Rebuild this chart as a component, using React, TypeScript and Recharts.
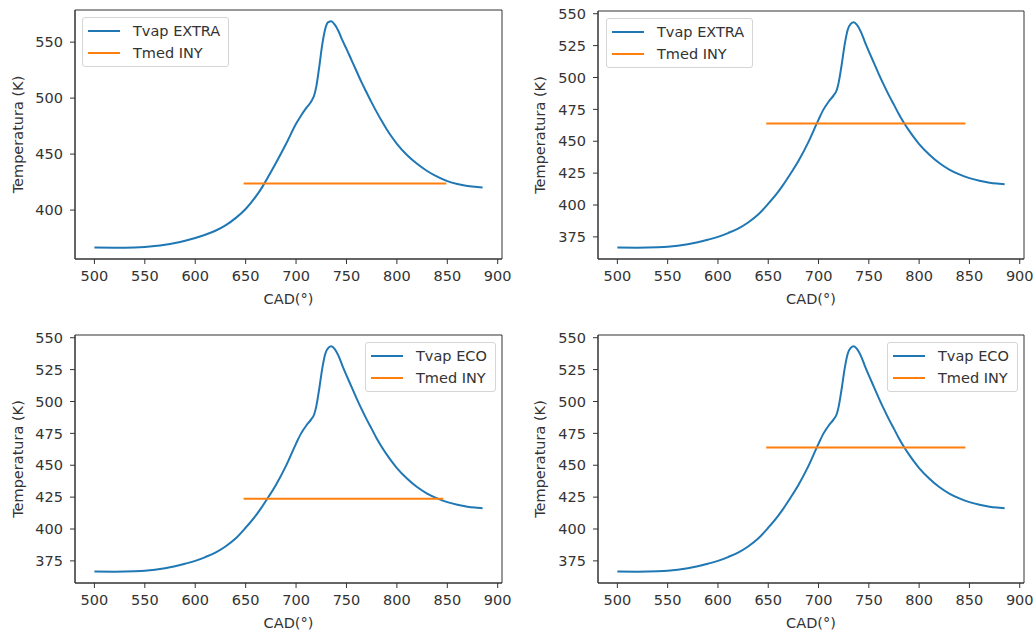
import React from 'react';
import { LineChart, Line, XAxis, YAxis, Legend, Label, ReferenceArea } from 'recharts';

// CAD (°) sample positions shared by the Tvap curves
const cad = [
  500, 520, 540, 550, 560, 570, 580, 590, 600, 610, 620, 630, 640, 650, 660, 665, 670, 680, 690, 700,
  705, 710, 715, 718, 720, 723, 726, 729, 732, 735, 738, 742, 746, 750, 755, 760, 765, 770, 775, 780,
  785, 790, 795, 800, 810, 820, 830, 840, 850, 860, 870, 880, 885,
];

// Tvap EXTRA (top-left panel)
const tvapExtra = [
  366.5, 366.4, 366.6, 367, 367.8, 369, 370.6, 372.6, 375, 378, 381.5, 386.3, 392.8, 401, 412, 418.5, 426, 442, 459, 477,
  484.5, 491, 497, 502.5, 510, 528, 548, 562, 567.8, 568.6, 566, 560, 551.5, 544, 534, 524, 514, 505, 496, 487.5,
  479.5, 472, 465.3, 459.2, 449.2, 441.3, 434.9, 429.8, 425.8, 423.2, 421.5, 420.5, 420.2,
];

// Tvap with the lower peak (other three panels)
const tvapEco = [
  366.6, 366.5, 366.8, 367.2, 368, 369.2, 370.8, 372.8, 375, 378, 381.5, 386.3, 392.5, 401, 410.5, 416, 422, 434.5, 449.5, 467,
  475, 481, 486, 490, 496, 510, 526, 537.5, 542, 543.3, 541.5, 536, 528, 520.5, 511.5, 502.5, 494, 486, 478.5, 471,
  464.3, 458.3, 452.8, 447.8, 439.6, 432.9, 427.8, 424, 421.1, 419, 417.5, 416.6, 416.2,
];

// Tmed INY horizontal segments
const tmedCadA = [648, 849];
const tmedCadB = [648, 846];
const tmedLow = [423.8, 423.8];
const tmedHigh = [464, 464];

const xTicks = [500, 550, 600, 650, 700, 750, 800, 850, 900];
const yTicksA = [400, 450, 500, 550];
const yTicksB = [375, 400, 425, 450, 475, 500, 525, 550];

const BLUE = '#1f77b4';
const ORANGE = '#ff7f0e';
const INK = '#333';
const FONT = '"DejaVu Sans", sans-serif';
const FS = 14.5;

const toRows = (xs: number[], ys: number[]) => xs.map((x, i) => ({ x, y: ys[i] }));

const padded = (vals: number[]): [number, number] => {
  const lo = Math.min(...vals);
  const hi = Math.max(...vals);
  const m = (hi - lo) * 0.05;
  return [lo - m, hi + m];
};

const xDomain = padded(cad);

const LegendBox = ({ items }: { items: { name: string; color: string }[] }) => (
  <div
    style={{
      background: 'rgba(255,255,255,0.8)',
      border: '1px solid #d5d5d5',
      borderRadius: 3,
      padding: '2px 8px 2px 5px',
      fontFamily: FONT,
      fontSize: FS,
      color: INK,
      whiteSpace: 'nowrap',
    }}
  >
    {items.map((it) => (
      <div key={it.name} style={{ display: 'flex', alignItems: 'center', height: 22 }}>
        <div style={{ width: 32, height: 2, background: it.color, marginRight: 13 }} />
        <span>{it.name}</span>
      </div>
    ))}
  </div>
);

interface PanelProps {
  vap: number[];
  vapName: string;
  tmedX: number[];
  tmedY: number[];
  yTicks: number[];
  left: number;
  top: number;
  yAxisW: number;
  marginRight: number;
  marginTop: number;
  xAxisH: number;
  yLabelX: number;
  legendPos: { left: number; top: number };
}

const Panel = (p: PanelProps) => {
  const rows = toRows(cad, p.vap);
  const tmedRows = toRows(p.tmedX, p.tmedY);
  const yDomain = padded(p.vap);
  const tickStyle = { fill: INK, fontSize: FS, fontFamily: FONT };

  return (
    <div style={{ position: 'absolute', left: p.left, top: p.top }}>
      <LineChart
        width={517}
        height={315}
        margin={{ top: p.marginTop, right: p.marginRight, bottom: 0, left: 0 }}
      >
        <XAxis
          dataKey="x"
          type="number"
          domain={xDomain}
          ticks={xTicks}
          allowDataOverflow
          height={p.xAxisH}
          stroke={INK}
          tickSize={5}
          tickMargin={7}
          tick={tickStyle}
        >
          <Label
            content={({ viewBox }: any) => (
              <text
                x={viewBox.x + viewBox.width / 2}
                y={viewBox.y + 40}
                textAnchor="middle"
                dominantBaseline="central"
                fill={INK}
                fontSize={FS}
                fontFamily={FONT}
              >
                CAD(°)
              </text>
            )}
          />
        </XAxis>
        <YAxis
          type="number"
          domain={yDomain}
          ticks={p.yTicks}
          allowDataOverflow
          width={p.yAxisW}
          stroke={INK}
          tickSize={5}
          tickMargin={7}
          tick={tickStyle}
        >
          <Label
            content={({ viewBox }: any) => {
              const cx = viewBox.x + p.yLabelX;
              const cy = viewBox.y + viewBox.height / 2;
              return (
                <text
                  x={cx}
                  y={cy}
                  transform={`rotate(-90, ${cx}, ${cy})`}
                  textAnchor="middle"
                  dominantBaseline="central"
                  fill={INK}
                  fontSize={FS}
                  fontFamily={FONT}
                >
                  Temperatura (K)
                </text>
              );
            }}
          />
        </YAxis>
        <ReferenceArea
          x1={xDomain[0]}
          x2={xDomain[1]}
          y1={yDomain[0]}
          y2={yDomain[1]}
          fill="none"
          stroke={INK}
          strokeWidth={1}
          ifOverflow="visible"
        />
        <Line
          data={rows}
          dataKey="y"
          name={p.vapName}
          type="monotone"
          stroke={BLUE}
          strokeWidth={2}
          dot={false}
          activeDot={false}
          isAnimationActive={false}
        />
        <Line
          data={tmedRows}
          dataKey="y"
          name="Tmed INY"
          type="linear"
          stroke={ORANGE}
          strokeWidth={2}
          dot={false}
          activeDot={false}
          isAnimationActive={false}
        />
        <Legend
          layout="vertical"
          align="center"
          verticalAlign="middle"
          wrapperStyle={{ position: 'absolute', left: p.legendPos.left, top: p.legendPos.top, width: 'auto', height: 'auto' }}
          content={() => (
            <LegendBox
              items={[
                { name: p.vapName, color: BLUE },
                { name: 'Tmed INY', color: ORANGE },
              ]}
            />
          )}
        />
      </LineChart>
    </div>
  );
};

export default function App() {
  return (
    <div style={{ position: 'absolute', left: 0, top: 0, width: 1034, height: 630, background: '#fff' }}>
      <Panel
        vap={tvapExtra}
        vapName="Tvap EXTRA"
        tmedX={tmedCadA}
        tmedY={tmedLow}
        yTicks={yTicksA}
        left={0}
        top={0}
        yAxisW={75}
        marginRight={15}
        marginTop={10}
        xAxisH={56}
        yLabelX={18}
        legendPos={{ left: 82, top: 17 }}
      />
      <Panel
        vap={tvapEco}
        vapName="Tvap EXTRA"
        tmedX={tmedCadB}
        tmedY={tmedHigh}
        yTicks={yTicksB}
        left={517}
        top={0}
        yAxisW={81}
        marginRight={10}
        marginTop={11}
        xAxisH={56}
        yLabelX={23}
        legendPos={{ left: 89, top: 18 }}
      />
      <Panel
        vap={tvapEco}
        vapName="Tvap ECO"
        tmedX={tmedCadB}
        tmedY={tmedLow}
        yTicks={yTicksB}
        left={0}
        top={315}
        yAxisW={75}
        marginRight={15}
        marginTop={20}
        xAxisH={47}
        yLabelX={18}
        legendPos={{ left: 365, top: 27 }}
      />
      <Panel
        vap={tvapEco}
        vapName="Tvap ECO"
        tmedX={tmedCadB}
        tmedY={tmedHigh}
        yTicks={yTicksB}
        left={517}
        top={315}
        yAxisW={81}
        marginRight={10}
        marginTop={20}
        xAxisH={47}
        yLabelX={23}
        legendPos={{ left: 370, top: 27 }}
      />
    </div>
  );
}
